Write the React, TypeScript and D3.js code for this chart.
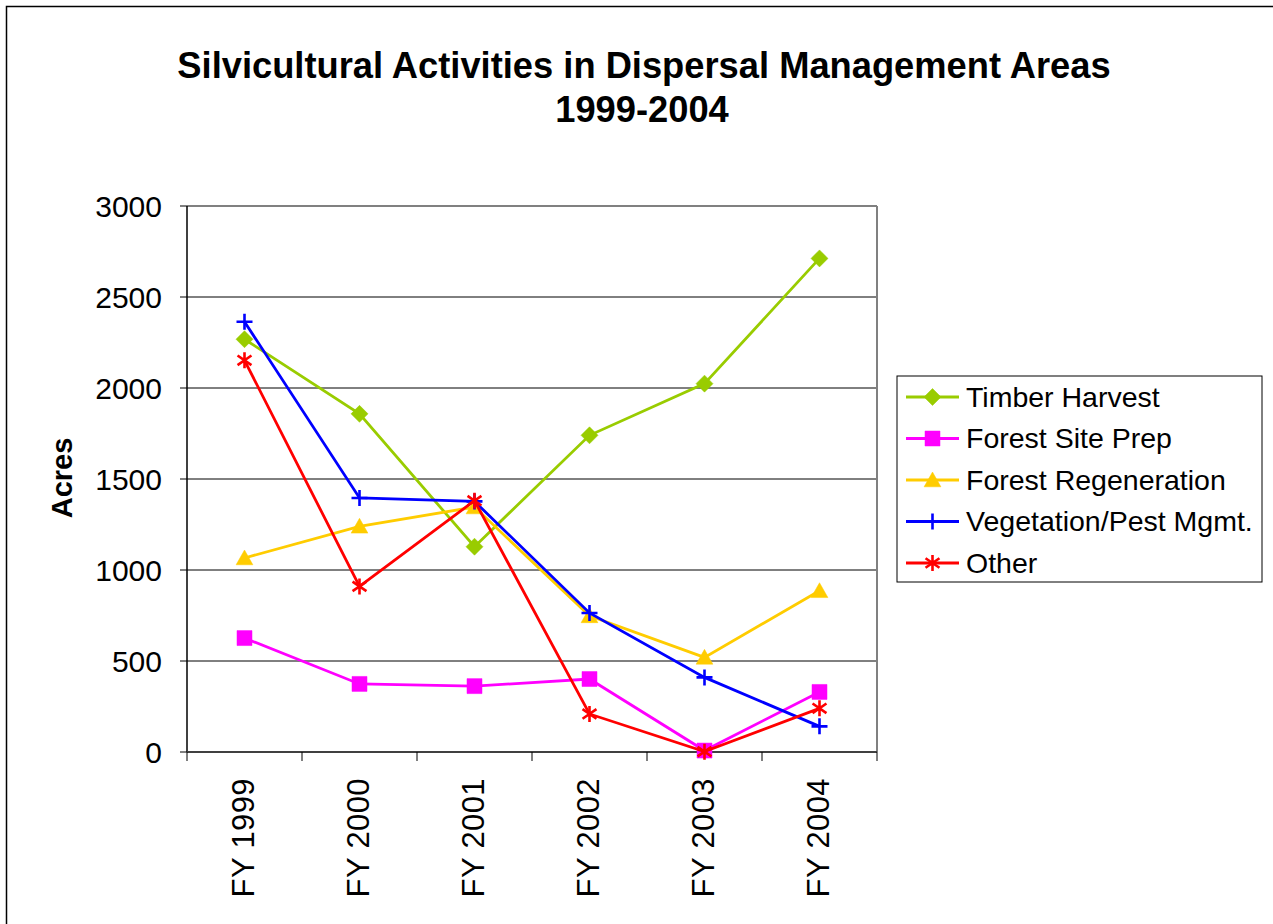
import React from "react";
import * as d3 from "d3";

const categories = ["FY 1999", "FY 2000", "FY 2001", "FY 2002", "FY 2003", "FY 2004"];
const timberHarvest = [2268, 1858, 1128, 1740, 2024, 2712];
const forestSitePrep = [626, 374, 362, 401, 8, 330];
const forestRegeneration = [1066, 1240, 1346, 748, 520, 886];
const vegetationPest = [2364, 1396, 1377, 764, 410, 141];
const other = [2152, 910, 1381, 209, 2, 240];
const yTicks = [0, 500, 1000, 1500, 2000, 2500, 3000];

const seriesNames = ["Timber Harvest", "Forest Site Prep", "Forest Regeneration", "Vegetation/Pest Mgmt.", "Other"];
const seriesValues = [timberHarvest, forestSitePrep, forestRegeneration, vegetationPest, other];
const seriesColors = ["#99CC00", "#FF00FF", "#FFCC00", "#0000FF", "#FF0000"];
const seriesMarkers = ["diamond", "square", "triangle", "plus", "star"];

const FONT = "'Liberation Sans', Arial, Helvetica, sans-serif";

function markerPath(type: string, r: number): string {
  switch (type) {
    case "diamond":
      return `M0,${-r}L${r},0L0,${r}L${-r},0Z`;
    case "square":
      return `M${-r},${-r}H${r}V${r}H${-r}Z`;
    case "triangle":
      return `M0,${-r}L${r * 1.05},${r * 0.85}L${-r * 1.05},${r * 0.85}Z`;
    case "plus":
      return `M${-r},0H${r}M0,${-r}V${r}`;
    case "star":
      return `M0,${-r}V${r}M${-r * 0.87},${-r * 0.6}L${r * 0.87},${r * 0.6}M${-r * 0.87},${r * 0.6}L${r * 0.87},${-r * 0.6}`;
    default:
      return "";
  }
}

function Marker({ type, color, x, y }: { type: string; color: string; x: number; y: number }) {
  const filled = type === "diamond" || type === "square" || type === "triangle";
  const r = type === "diamond" ? 8.5 : type === "square" ? 7.5 : 8;
  return (
    <path
      d={markerPath(type, r)}
      transform={`translate(${x},${y})`}
      fill={filled ? color : "none"}
      stroke={color}
      strokeWidth={filled ? 0.5 : 2.6}
    />
  );
}

export default function App() {
  const width = 1273;
  const height = 924;
  const left = 187, right = 877, top = 206, bottom = 752;

  const x = d3.scaleBand<string>().domain(categories).range([left, right]).padding(0);
  const y = d3.scaleLinear().domain([0, 3000]).range([bottom, top]);
  const cx = (c: string) => (x(c) as number) + x.bandwidth() / 2;

  const boundaries = categories.map((c) => x(c) as number).concat([right]);

  const legendX = 897, legendY = 376, legendW = 365, legendH = 206;

  return (
    <svg
      width={width}
      height={height}
      style={{ position: "absolute", left: 0, top: 0, display: "block", background: "#fff" }}
      fontFamily={FONT}
    >
      <rect x={0} y={0} width={width} height={height} fill="#fff" />
      <rect x={6.5} y={6.5} width={width + 20} height={height + 20} fill="none" stroke="#000" strokeWidth={1.5} />

      {/* title */}
      <text x={644} y={78} textAnchor="middle" fontSize={36.3} fontWeight="bold" fill="#000">
        Silvicultural Activities in Dispersal Management Areas
      </text>
      <text x={642} y={122} textAnchor="middle" fontSize={36.3} fontWeight="bold" fill="#000">
        1999-2004
      </text>

      {/* gridlines */}
      {yTicks.filter((t) => t > 0 && t < 3000).map((t) => (
        <line key={t} x1={left} x2={right} y1={y(t)} y2={y(t)} stroke="#000" strokeWidth={1} />
      ))}
      {/* plot border top/right */}
      <line x1={left} x2={right} y1={top} y2={top} stroke="#808080" strokeWidth={2} />
      <line x1={right} x2={right} y1={top} y2={bottom} stroke="#808080" strokeWidth={2} />

      {/* y axis */}
      <line x1={left} x2={left} y1={top} y2={bottom} stroke="#000" strokeWidth={1.5} />
      {yTicks.map((t) => (
        <g key={t}>
          <line x1={left - 7} x2={left} y1={y(t)} y2={y(t)} stroke="#000" strokeWidth={1} />
          <text x={162} y={y(t)} dy="0.35em" textAnchor="end" fontSize={30} fill="#000">
            {t}
          </text>
        </g>
      ))}
      <text
        transform={`translate(62,478) rotate(-90)`}
        textAnchor="middle"
        dy="0.35em"
        fontSize={29}
        fontWeight="bold"
        fill="#000"
      >
        Acres
      </text>

      {/* x axis */}
      <line x1={left} x2={right} y1={bottom} y2={bottom} stroke="#404040" strokeWidth={2} />
      {boundaries.map((b, i) => (
        <line key={i} x1={b} x2={b} y1={bottom} y2={bottom + 9} stroke="#000" strokeWidth={1} />
      ))}
      {categories.map((c) => (
        <text
          key={c}
          transform={`translate(${cx(c) - 1},778) rotate(-90)`}
          textAnchor="end"
          dy="0.35em"
          fontSize={31}
          letterSpacing={0.4}
          fill="#000"
        >
          {c}
        </text>
      ))}

      {/* series */}
      {seriesValues.map((vals, si) => {
        const line = d3
          .line<number>()
          .x((_, i) => cx(categories[i]))
          .y((v) => y(v));
        return (
          <g key={si}>
            <path d={line(vals) || ""} fill="none" stroke={seriesColors[si]} strokeWidth={2.8} />
            {vals.map((v, i) => (
              <Marker key={i} type={seriesMarkers[si]} color={seriesColors[si]} x={cx(categories[i])} y={y(v)} />
            ))}
          </g>
        );
      })}

      {/* legend */}
      <rect x={legendX} y={legendY} width={legendW} height={legendH} fill="#fff" stroke="#000" strokeWidth={1} />
      {seriesNames.map((n, i) => {
        const ly = 397 + i * 41.5;
        return (
          <g key={n}>
            <line x1={906} x2={959} y1={ly} y2={ly} stroke={seriesColors[i]} strokeWidth={2.8} />
            <Marker type={seriesMarkers[i]} color={seriesColors[i]} x={932.5} y={ly} />
            <text x={966} y={ly} dy="0.35em" fontSize={28.5} fill="#000">
              {n}
            </text>
          </g>
        );
      })}
    </svg>
  );
}
